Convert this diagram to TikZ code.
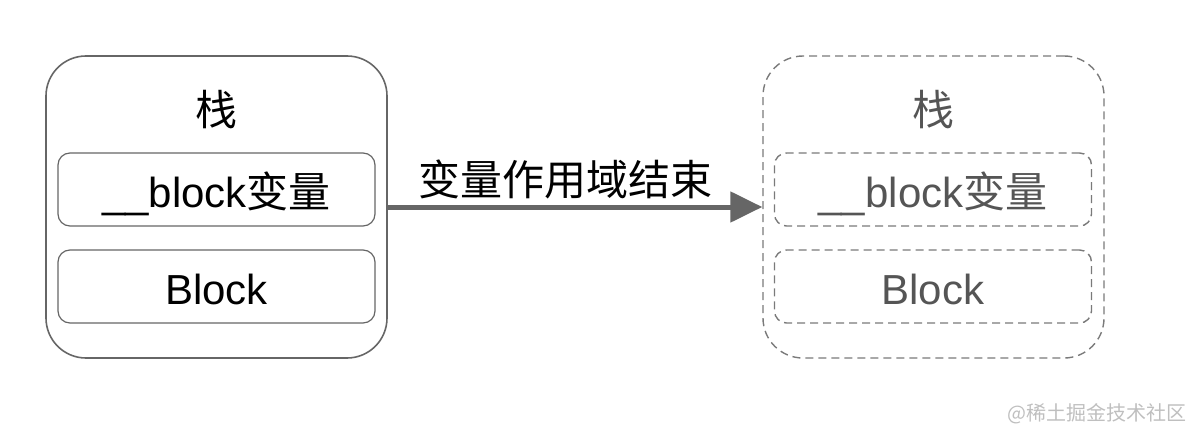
\documentclass[tikz,border=0pt]{standalone}
\usepackage{fontspec}
\setmainfont{Liberation Sans}
\newfontfamily\cjk{Noto Sans CJK SC}
\usetikzlibrary{arrows.meta}
\definecolor{lineg}{HTML}{666666}
\definecolor{dashg}{HTML}{7A7A7A}
\definecolor{textg}{HTML}{555555}
\begin{document}
\begin{tikzpicture}[x=0.5pt,y=-0.5pt]
    \tikzstyle{every node}+=[inner sep=0pt, font=\fontsize{21}{25}\selectfont]
    \tikzstyle{stackbox}=[draw=lineg, line width=0.8pt, rounded corners=20pt, minimum width=170.5pt, minimum height=151pt]
    \tikzstyle{itembox}=[draw=lineg, line width=0.6pt, rounded corners=6pt, minimum width=158.5pt, minimum height=36.5pt, text height=18pt, text depth=0pt]
    \tikzstyle{ghost}=[draw=dashg, line width=0.7pt, dash pattern=on 4pt off 2.5pt, text=textg]
    \useasboundingbox (0,0) rectangle (1200,444);
    % before
    \node [stackbox] (stackA) at (216.5,207) {};
    \node (titleA) at (216,110) {\cjk 栈};
    \node [itembox] (varA) at (216.5,189.5) {\_\_block\cjk 变量};
    \node [itembox] (blockA) at (216.5,286.5) {Block};
    % after
    \node [stackbox, ghost] (stackB) at (933.5,207) {};
    \node [text=textg] (titleB) at (933,110) {\cjk 栈};
    \node [itembox, ghost] (varB) at (933,189.5) {\_\_block\cjk 变量};
    \node [itembox, ghost] (blockB) at (933,286.5) {Block};
    % scope ends
    \draw [lineg, line width=2.5pt, -{Triangle[length=16pt, width=15pt]}] (stackA.east) -- (stackB.west);
    \node (endA) at (565,179) {\cjk 变量作用域结束};
    \node [text=gray!50, font=\fontsize{10}{12}\selectfont] (mark) at (1097,414) {\cjk @稀土掘金技术社区};
\end{tikzpicture}
\end{document}
